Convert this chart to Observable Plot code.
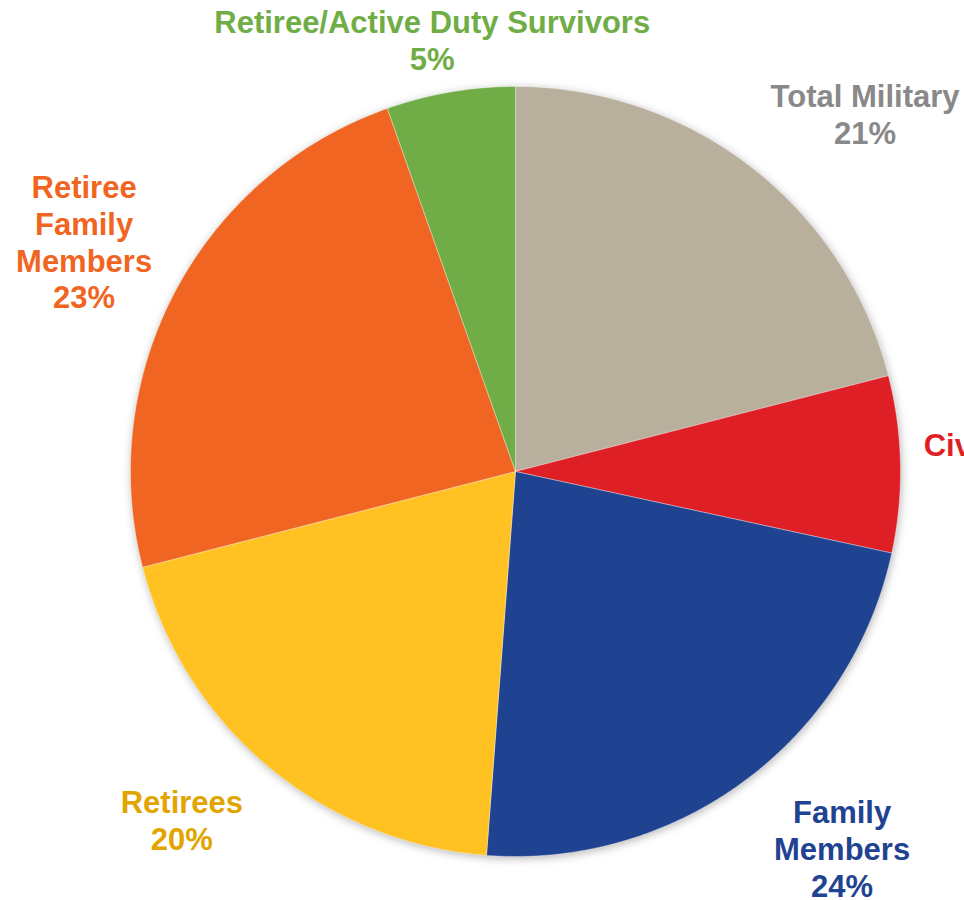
<!DOCTYPE html>
<html>
<head>
<meta charset="utf-8">
<script src="https://cdn.jsdelivr.net/npm/d3@7"></script>
<script src="https://cdn.jsdelivr.net/npm/@observablehq/plot@0.6"></script>
<style>
  html, body { margin: 0; padding: 0; background: #fff; overflow: hidden; }
  #chart svg { overflow: visible; }
  #chart g[aria-label="line"] { filter: drop-shadow(1px 2px 4px rgba(0,0,0,0.28)); }
</style>
</head>
<body>
<div id="chart"></div>
<script>
// ---- data, clockwise from 12 o'clock ----
const categories = ["Total Military", "Civilians", "Family Members", "Retirees", "Retiree Family Members", "Retiree/Active Duty Survivors"];
const shares = [21, 7.4, 22.8, 19.8, 23.6, 5.4];          // slice sizes as drawn
const percentLabels = ["21%", "7%", "24%", "20%", "23%", "5%"]; // printed labels
const labelNames = ["Total Military", "Civilians", "Family\nMembers", "Retirees", "Retiree\nFamily\nMembers", "Retiree/Active Duty Survivors"];

// ---- styles ----
const fills = ["#B8AF9C", "#DF1F26", "#1F4391", "#FFC222", "#F16522", "#70AD47"];
const textColors = ["#898989", "#DF1F26", "#1F4391", "#E2A500", "#F16522", "#70AD47"];
const labelRadius = [1.30, 1.226, 1.295, 1.253, 1.27, 1.142];   // in pie radii
const labelAngleShift = [6.5, 0, -4.2, 3.8, 0, -1.2];           // degrees

// ---- build slices via d3.pie ----
const pie = d3.pie().sort(null).value(d => d.value);
const arcs = pie(categories.map((name, i) => ({name, value: shares[i], i})));

const slicePts = [];
arcs.forEach(a => {
  const name = a.data.name;
  slicePts.push({name, x: 0, y: 0});
  const steps = Math.max(2, Math.ceil((a.endAngle - a.startAngle) / (Math.PI / 360)));
  for (let k = 0; k <= steps; k++) {
    const t = a.startAngle + (a.endAngle - a.startAngle) * k / steps;
    slicePts.push({name, x: Math.sin(t), y: Math.cos(t)});
  }
  slicePts.push({name, x: 0, y: 0});
});

const labels = arcs.map((a, i) => {
  const mid = (a.startAngle + a.endAngle) / 2 + labelAngleShift[i] * Math.PI / 180;
  return {
    name: a.data.name,
    text: labelNames[i] + "\n" + percentLabels[i],
    x: labelRadius[i] * Math.sin(mid),
    y: labelRadius[i] * Math.cos(mid),
    color: textColors[i]
  };
});

const chart = Plot.plot({
  width: 964,
  height: 900,
  margin: 0,
  x: {domain: [-1, 1], range: [130, 900], axis: null},
  y: {domain: [-1, 1], range: [856, 86], axis: null},
  color: {domain: categories, range: fills},
  style: {fontFamily: "'Liberation Sans', Arial, sans-serif", background: "white"},
  marks: [
    Plot.line(slicePts, {x: "x", y: "y", z: "name", fill: "name", stroke: "white", strokeWidth: 0.6, strokeOpacity: 0.6, curve: "linear"}),
    Plot.text(labels, {
      x: "x", y: "y", text: "text",
      fill: d => d.color,
      fontSize: 31, fontWeight: "bold",
      lineHeight: 1.19, lineAnchor: "middle", textAnchor: "middle"
    })
  ]
});
document.getElementById("chart").appendChild(chart);
</script>
</body>
</html>
